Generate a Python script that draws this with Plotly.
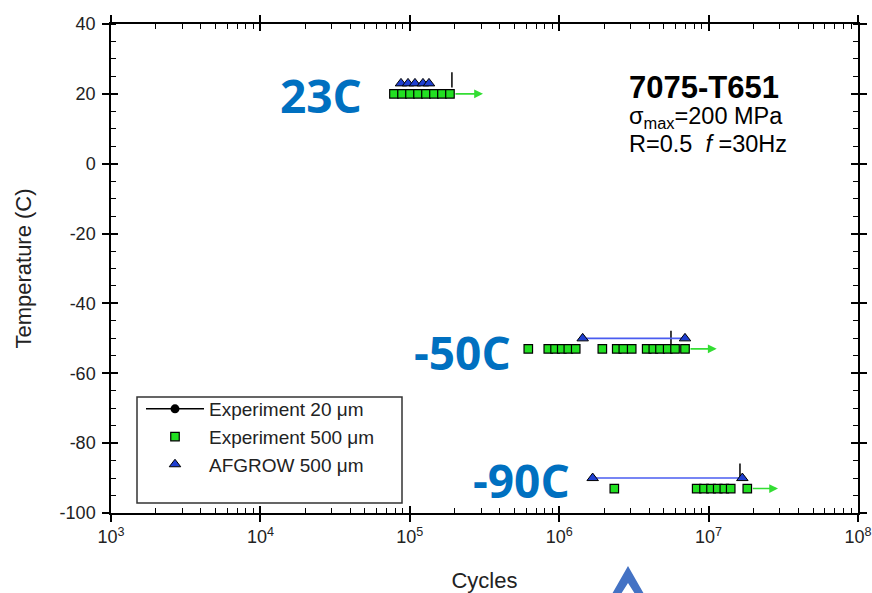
import numpy as np
import plotly.graph_objects as go

# ---------------- data ----------------
# Experiment 500 um (cycles, temperature C)
exp500_23_cycles = [78300, 88700, 100300, 113500, 128300, 145100, 164100, 185700]
exp500_23_temp = [20] * len(exp500_23_cycles)
exp500_50_cycles = [621000, 845000, 938000, 1040000, 1151000, 1290000, 1944000,
                    2427000, 2686000, 3057000, 3851000, 4265000, 4728000, 5322000,
                    5960000, 6951000]
exp500_50_temp = [-53] * len(exp500_50_cycles)
exp500_90_cycles = [2338000, 8320000, 9320000, 10380000, 11510000, 12740000,
                    14060000, 18150000]
exp500_90_temp = [-93] * len(exp500_90_cycles)

# run-out arrows (start = last failure, end = run-out), per temperature
runout_start = [185700, 6951000, 18150000]
runout_end = [309000, 11330000, 29150000]
runout_temp = [20, -53, -93]

# AFGROW 500 um predictions
afgrow_23_cycles = [87300, 97300, 108300, 122500, 134400]
afgrow_50_cycles = [1436000, 6950000]
afgrow_90_cycles = [1675000, 16820000]
afgrow_temps = [23, -50, -90]

# Experiment 20 um (only fragments visible)
exp20_cycles = [191400, 5600000, 16220000]
exp20_temp = [24, -50, -88]

x_tickvals = [1e3, 1e4, 1e5, 1e6, 1e7, 1e8]
x_ticktext = ["10<sup>3</sup>", "10<sup>4</sup>", "10<sup>5</sup>",
              "10<sup>6</sup>", "10<sup>7</sup>", "10<sup>8</sup>"]
y_tickvals = [40, 20, 0, -20, -40, -60, -80, -100]
y_ticktext = ["40", "20", "0", "-20", "-40", "-60", "-80", "-100"]

# ---------------- geometry (layout only) ----------------
W, H = 872, 593
L, R, T, B = 111, 858, 24, 513          # plot area in pixels


def px(xp):
    return (xp - L) / (R - L)


def py(yp):
    return (B - yp) / (B - T)


FONT = "Arial, Liberation Sans, sans-serif"
GREEN = "#22e022"
BLUE_FILL = "#1f3fd0"
BLUE_LINE = "#4a5cf0"
LABEL_BLUE = "#0070C0"

x_minor = [d * 10 ** e for e in range(3, 8) for d in range(2, 10)]

fig = go.Figure()

# legend-only entry for Experiment 20 um
fig.add_trace(go.Scatter(
    x=[None], y=[None], mode="lines+markers", name="Experiment 20 \u03bcm",
    line=dict(color="black", width=1.5),
    marker=dict(symbol="circle", size=9, color="black"),
))
# fragments of 20 um data
fig.add_trace(go.Scatter(
    x=exp20_cycles, y=exp20_temp, mode="markers", showlegend=False,
    marker=dict(symbol="line-ns", size=11, line=dict(color="black", width=1.5)),
    hoverinfo="skip",
))

# AFGROW lines + triangles
af_x, af_y = [], []
for grp, t in zip([afgrow_23_cycles, afgrow_50_cycles, afgrow_90_cycles], afgrow_temps):
    af_x += grp + [None]
    af_y += [t] * len(grp) + [None]
fig.add_trace(go.Scatter(
    x=af_x, y=af_y, mode="lines", showlegend=False,
    line=dict(color=BLUE_LINE, width=1.6), hoverinfo="skip",
))

# Experiment 500 um squares
ex_x = exp500_23_cycles + exp500_50_cycles + exp500_90_cycles
ex_y = exp500_23_temp + exp500_50_temp + exp500_90_temp
fig.add_trace(go.Scatter(
    x=ex_x, y=ex_y, mode="markers", name="Experiment 500 \u03bcm",
    marker=dict(symbol="square", size=8.5, color=GREEN, line=dict(color="black", width=1.2)),
))

fig.add_trace(go.Scatter(
    x=af_x, y=af_y, mode="markers", name="AFGROW 500 \u03bcm",
    marker=dict(symbol="triangle-up", size=10, color=BLUE_FILL, line=dict(color="black", width=1)),
))

# dummy trace for overlay axes (inside half of crossing ticks)
fig.add_trace(go.Scatter(x=[None], y=[None], xaxis="x2", yaxis="y2", showlegend=False))

annotations = []
# run-out arrows
for s, e, t in zip(runout_start, runout_end, runout_temp):
    annotations.append(dict(
        x=np.log10(e), y=t, ax=np.log10(s), ay=t, xref="x", yref="y",
        axref="x", ayref="y", showarrow=True, arrowhead=2, arrowsize=1.1,
        arrowwidth=1.6, arrowcolor="#33dd33", startstandoff=4, text="",
    ))

# big temperature labels
for txt, cx, cy in [("23C", 321, 95), ("-50C", 462, 352), ("-90C", 521, 480)]:
    annotations.append(dict(
        x=px(cx), y=py(cy), xref="paper", yref="paper", showarrow=False,
        xanchor="center", yanchor="middle", text="<b>%s</b>" % txt,
        font=dict(family="Open Sans, sans-serif", size=46, color=LABEL_BLUE),
    ))

# material info block
annotations += [
    dict(x=px(627), y=py(87), xref="paper", yref="paper", showarrow=False,
         xanchor="left", yanchor="middle", text="<b>7075-T651</b>",
         font=dict(family=FONT, size=31, color="black")),
    dict(x=px(627), y=py(118), xref="paper", yref="paper", showarrow=False,
         xanchor="left", yanchor="middle", text="\u03c3<sub>max</sub>=200 MPa",
         font=dict(family=FONT, size=23.5, color="black")),
    dict(x=px(627), y=py(144), xref="paper", yref="paper", showarrow=False,
         xanchor="left", yanchor="middle", text="R=0.5  <i>f</i> =30Hz",
         font=dict(family=FONT, size=23.5, color="black")),
]

shapes = [
    # legend frame
    dict(type="rect", xref="paper", yref="paper", x0=px(137), x1=px(402),
         y0=py(503), y1=py(397), line=dict(color="#333", width=1.5),
         fillcolor="white", layer="above"),
]
# blue up arrow at bottom
pts = [(628, 566), (644, 594), (635, 594), (628, 583), (621, 594), (612, 594)]
path = "M " + " L ".join("%f,%f" % (px(a), py(b)) for a, b in pts) + " Z"
shapes.append(dict(type="path", xref="paper", yref="paper", path=path,
                   fillcolor="#4472C4", line=dict(width=0)))

axis_common = dict(
    showline=True, linecolor="black", linewidth=1.5, mirror="ticks",
    showgrid=False, zeroline=False, ticks="outside", ticklen=7, tickwidth=1.5,
    tickcolor="black", automargin=False, tickmode="array",
)

fig.update_layout(
    width=W, height=H,
    margin=dict(l=L, r=W - R, t=T, b=H - B, autoexpand=False),
    paper_bgcolor="white", plot_bgcolor="white",
    font=dict(family=FONT, color="#222"),
    showlegend=True,
    legend=dict(x=px(141), y=py(390), xanchor="left", yanchor="top",
                bgcolor="rgba(0,0,0,0)", borderwidth=0,
                font=dict(family=FONT, size=19, color="#222"),
                itemwidth=58, tracegroupgap=0),
    xaxis=dict(
        type="log", range=[3, 8], tickvals=x_tickvals, ticktext=x_ticktext,
        tickfont=dict(size=18, color="#222"),
        title=dict(text="Cycles", font=dict(size=22, color="#222"), standoff=26),
        minor=dict(ticks="inside", ticklen=5, tickwidth=1.2, tickcolor="black",
                   tickmode="array", tickvals=x_minor, showgrid=False),
        **axis_common,
    ),
    yaxis=dict(
        range=[-100, 40], tickvals=y_tickvals, ticktext=y_ticktext,
        tickfont=dict(size=18, color="#222"), ticklabelstandoff=3,
        title=dict(text="Temperature (C)", font=dict(size=22, color="#222"), standoff=22),
        minor=dict(ticks="inside", ticklen=5, tickwidth=1.2, tickcolor="black",
                   dtick=5, showgrid=False),
        **axis_common,
    ),
    xaxis2=dict(type="log", range=[3, 8], overlaying="x", anchor="y2",
                tickmode="array", tickvals=x_tickvals, showticklabels=False,
                ticks="inside", automargin=False,
                ticklen=7, tickwidth=1.5, tickcolor="black", mirror="ticks",
                showline=False, showgrid=False, zeroline=False),
    yaxis2=dict(range=[-100, 40], overlaying="y", anchor="x2",
                tickmode="array", tickvals=y_tickvals, showticklabels=False,
                ticks="inside", automargin=False,
                ticklen=7, tickwidth=1.5, tickcolor="black", mirror="ticks",
                showline=False, showgrid=False, zeroline=False),
    annotations=annotations,
    shapes=shapes,
)

fig.write_html(
    "out.html",
    config={"displayModeBar": False},
    post_script="document.body.style.margin='0';document.body.style.overflow='hidden';",
)
